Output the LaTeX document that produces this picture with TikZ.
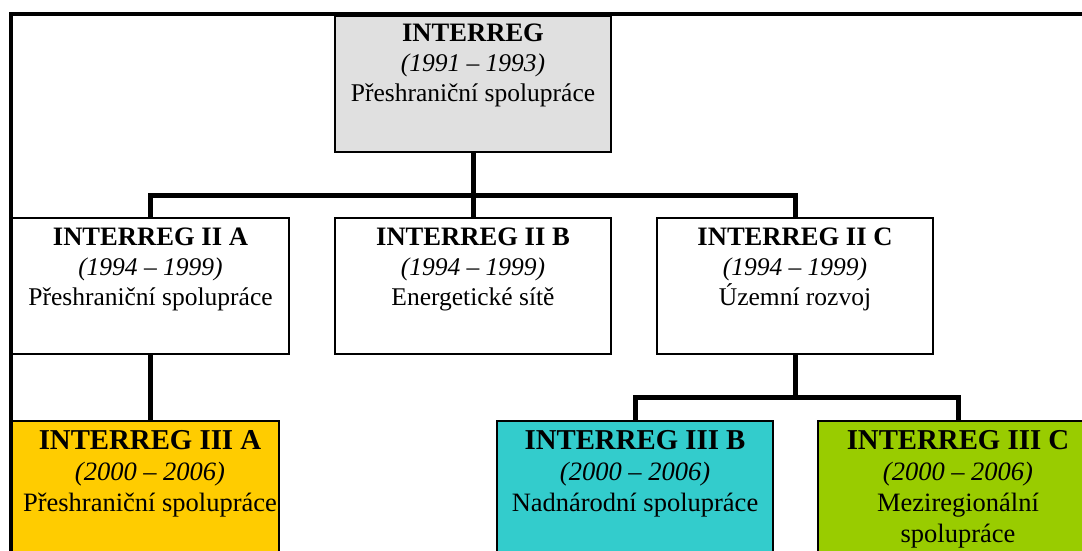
\documentclass[tikz,border=0pt]{standalone}
\usepackage{fontspec}
\setmainfont{Liberation Serif}
\definecolor{topgray}{HTML}{E0E0E0}
\definecolor{iiia}{HTML}{FFCC00}
\definecolor{iiib}{HTML}{33CCCC}
\definecolor{iiic}{HTML}{99CC00}
\newcommand{\midtitle}[1]{{\fontsize{26.6}{30}\selectfont\textbf{#1}}}
\newcommand{\bottitle}[1]{{\fontsize{28.8}{31}\selectfont\textbf{#1}}}
\begin{document}
\begin{tikzpicture}[x=1pt,y=-1pt,
  box/.style={draw=black, line width=1.5pt, rectangle, inner sep=0pt, outer sep=0pt, anchor=north west, fill=white},
  conn/.style={draw=black, line width=5pt, line join=miter},
  midtxt/.style={anchor=north, inner sep=0pt, align=center, font=\fontsize{25.5}{30}\selectfont},
  bottxt/.style={anchor=north, inner sep=0pt, align=center, font=\fontsize{26.5}{31}\selectfont}]
\useasboundingbox (0,0) rectangle (1082,551);
\clip (0,0) rectangle (1082,551);
\fill[white] (0,0) rectangle (1082,551);
% outer frame
\draw[line width=4pt] (11.3,600) -- (11.3,14.3) -- (1100,14.3);
% connector coordinates
\coordinate (j1) at (473,195);
\coordinate (j2) at (795,397);
% boxes (positions)
\path
  node[box, fill=topgray, minimum width=276pt, minimum height=136pt] (top) at (335,16) {}
  node[box, minimum width=277pt, minimum height=136pt] (A) at (12,218) {}
  node[box, minimum width=276pt, minimum height=136pt] (B) at (335,218) {}
  node[box, minimum width=276pt, minimum height=136pt] (C) at (657,218) {}
  node[box, fill=iiia, minimum width=267pt, minimum height=160pt] (IIIA) at (12,421) {}
  node[box, fill=iiib, minimum width=276pt, minimum height=160pt] (IIIB) at (497,421) {}
  node[box, fill=iiic, minimum width=280pt, minimum height=160pt] (IIIC) at (818,421) {};
% connectors
\draw[conn] (top.south) -- (B.north);
\draw[conn] (A.north) -- (A.north |- j1) -- (C.north |- j1) -- (C.north);
\draw[conn] (A.south) -- (A.south |- IIIA.north);
\draw[conn] (C.south) -- (C.south |- j2);
\draw[conn] (IIIB.north) -- (IIIB.north |- j2) -- (IIIC.north |- j2) -- (IIIC.north);
% redraw box borders over connector ends
\foreach \n in {top,A,B,C,IIIA,IIIB,IIIC} {
  \draw[line width=1.5pt] (\n.north west) rectangle (\n.south east);
}
% texts
\node[midtxt] (ttop) at (473,23.5) {\midtitle{INTERREG}\\\textit{(1991 – 1993)}\\Přeshraniční spolupráce};
\node[midtxt] (tA) at (150.5,227.5) {\midtitle{INTERREG II A}\\\textit{(1994 – 1999)}\\Přeshraniční spolupráce};
\node[midtxt] (tB) at (473,227.5) {\midtitle{INTERREG II B}\\\textit{(1994 – 1999)}\\Energetické sítě};
\node[midtxt] (tC) at (795,227.5) {\midtitle{INTERREG II C}\\\textit{(1994 – 1999)}\\Územní rozvoj};
\node[bottxt] (tIIIA) at (150,430.5) {\bottitle{INTERREG III A}\\\textit{(2000 – 2006)}\\Přeshraniční spolupráce};
\node[bottxt] (tIIIB) at (635,430.5) {\bottitle{INTERREG III B}\\\textit{(2000 – 2006)}\\Nadnárodní spolupráce};
\node[bottxt] (tIIIC) at (958,430.5) {\bottitle{INTERREG III C}\\\textit{(2000 – 2006)}\\Meziregionální\\spolupráce};
\end{tikzpicture}
\end{document}
